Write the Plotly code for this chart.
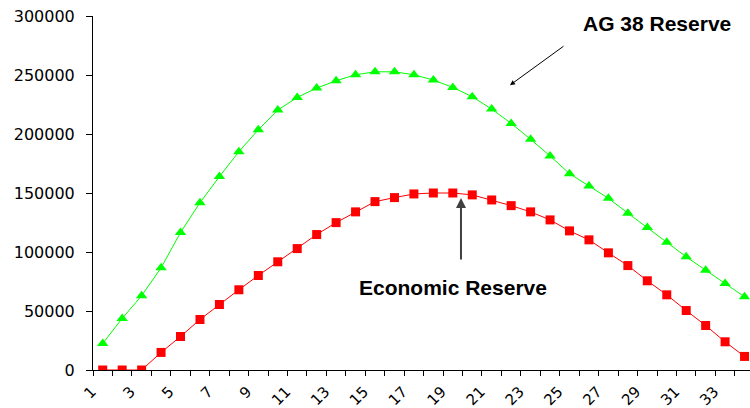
import plotly.graph_objects as go

# Period index along the x axis
periods = list(range(1, 35))

# Reserve volumes per period
ag38_reserve = [22500, 43700, 62900, 86600, 116500, 141800, 163900, 185000, 203600, 220300,
                231000, 238900, 245100, 250200, 252700, 252700, 250200, 245700, 239500, 231600,
                221100, 209000, 195500, 181400, 166400, 156000, 145500, 132900, 120700, 108300,
                95900, 84600, 73300, 62000]
economic_reserve = [0, 0, 0, 14900, 28400, 42800, 55500, 68000, 80100, 91700,
                    102900, 114800, 124900, 134000, 142700, 146100, 149200, 150000, 150000, 148400,
                    144100, 139300, 134000, 127200, 117900, 110300, 99300, 88500, 75600, 63700,
                    50400, 37700, 23900, 11500]

x_labels = [str(p) for p in periods if p % 2 == 1]
x_label_vals = [p for p in periods if p % 2 == 1]
y_ticks = [0, 50000, 100000, 150000, 200000, 250000, 300000]

y_tick_font = dict(family="DejaVu Sans, sans-serif", size=16, color="black")
x_tick_font = dict(family="DejaVu Sans, sans-serif", size=15, color="black")
note_font = dict(family="Liberation Sans, Arial, sans-serif", size=21, color="black")

fig = go.Figure()

fig.add_trace(go.Scatter(
    x=periods, y=ag38_reserve, mode="lines+markers", name="AG 38 Reserve",
    line=dict(color="#00FF00", width=1),
    marker=dict(symbol="triangle-up", size=10, color="#00FF00"),
))
fig.add_trace(go.Scatter(
    x=periods, y=economic_reserve, mode="lines+markers", name="Economic Reserve",
    line=dict(color="#FF0000", width=1),
    marker=dict(symbol="square", size=9, color="#FF0000"),
))

fig.update_layout(
    width=750, height=408,
    margin=dict(l=93, r=0, t=16, b=38),
    paper_bgcolor="white", plot_bgcolor="white",
    showlegend=False,
)

fig.update_xaxes(
    range=[0.5, 34.28], automargin=False,
    tickmode="array", tickvals=x_label_vals, ticktext=x_labels,
    ticks="outside", ticklen=0, tickangle=-45,
    ticklabelshift=-11, ticklabelstandoff=6,
    tickfont=x_tick_font,
    showline=True, linecolor="black", linewidth=1,
    showgrid=False, zeroline=False,
    minor=dict(tick0=0.5, dtick=1, ticks="outside", ticklen=5, tickcolor="black", showgrid=False),
)
fig.update_yaxes(
    range=[0, 300000], automargin=False,
    tickmode="array", tickvals=y_ticks, ticktext=[str(v) for v in y_ticks],
    ticks="outside", ticklen=6, tickcolor="black",
    ticklabelstandoff=8,
    tickfont=y_tick_font,
    showline=True, linecolor="black", linewidth=1,
    showgrid=False, zeroline=False,
)

# Callout labels with pointer arrows
fig.add_annotation(x=29.5, y=293500, text="<b>AG 38 Reserve</b>", showarrow=False, font=note_font)
fig.add_annotation(x=21.94, y=241400, text="", showarrow=True, ax=55, ay=-40,
                   arrowhead=2, arrowsize=1, arrowwidth=1, arrowcolor="black")
fig.add_annotation(x=19.0, y=69650, text="<b>Economic Reserve</b>", showarrow=False, font=note_font)
fig.add_annotation(x=19.42, y=145800, text="", showarrow=True, ax=0, ay=63,
                   arrowhead=2, arrowsize=1, arrowwidth=2, arrowcolor="#404040")

fig.write_html("out.html")
